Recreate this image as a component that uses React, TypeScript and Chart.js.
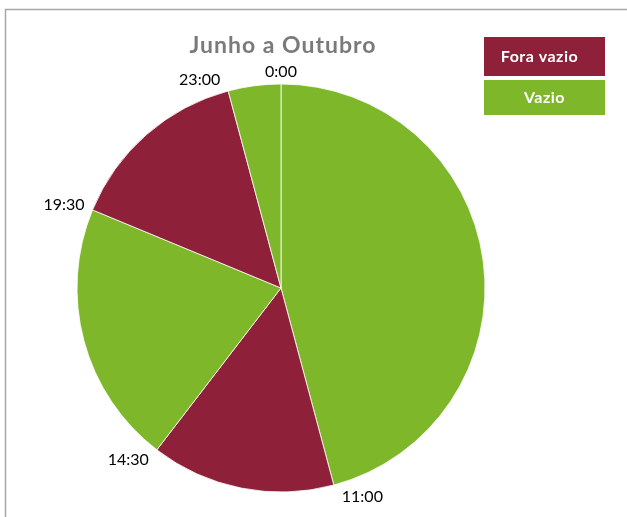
import React, { useEffect, useRef } from "react";
import { Chart, registerables } from "chart.js";

Chart.register(...registerables);

const chartTitle = "Junho a Outubro";
const periodHours = [11, 3.5, 5, 3.5, 1];
const periodTypes = ["Vazio", "Fora vazio", "Vazio", "Fora vazio", "Vazio"];
const boundaryLabels = ["0:00", "11:00", "14:30", "19:30", "23:00"];
const legendLabels = ["Fora vazio", "Vazio"];
const legendColors = ["#8E2039", "#7EB82A"];

const colorFor = (t: string) => legendColors[legendLabels.indexOf(t)];

const FONT = "Lato, 'Open Sans', sans-serif";

const decorPlugin = {
  id: "decor",
  beforeDraw(chart: any) {
    const ctx = chart.ctx;
    ctx.save();
    ctx.fillStyle = "#ffffff";
    ctx.fillRect(0, 0, chart.width, chart.height);
    ctx.strokeStyle = "#a6a6a6";
    ctx.lineWidth = 1.5;
    ctx.beginPath();
    ctx.moveTo(5.5, chart.height);
    ctx.lineTo(5.5, 9.5);
    ctx.lineTo(chart.width, 9.5);
    ctx.stroke();
    ctx.restore();
  },
  afterDraw(chart: any) {
    const ctx = chart.ctx;
    const meta = chart.getDatasetMeta(0);
    ctx.save();
    // title
    ctx.fillStyle = "#7a7a7a";
    ctx.font = `bold 23px ${FONT}`;
    (ctx as any).letterSpacing = "1px";
    ctx.textAlign = "center";
    ctx.textBaseline = "middle";
    ctx.fillText(chartTitle, 283, 46);
    (ctx as any).letterSpacing = "0px";

    // boundary labels
    ctx.font = `16px ${FONT}`;
    ctx.fillStyle = "#000000";
    meta.data.forEach((arc: any, i: number) => {
      const { x, y, startAngle, outerRadius } = arc.getProps(
        ["x", "y", "startAngle", "outerRadius"],
        true
      );
      const dx = Math.cos(startAngle);
      const dy = Math.sin(startAngle);
      const px = x + dx * outerRadius;
      const py = y + dy * outerRadius;
      const w = ctx.measureText(boundaryLabels[i]).width;
      const sx = Math.abs(dx) < 0.05 ? 0 : Math.sign(dx);
      const lx = px + sx * (w / 2 + 8);
      const ly = py + dy * 12;
      ctx.fillText(boundaryLabels[i], lx, ly);
    });

    // legend
    const bx = 484, bw = 121;
    const rows = [
      { y: 37, h: 39 },
      { y: 80, h: 35 },
    ];
    ctx.font = `bold 16px ${FONT}`;
    (ctx as any).letterSpacing = "0.5px";
    legendLabels.forEach((lab, i) => {
      ctx.fillStyle = legendColors[i];
      ctx.fillRect(bx, rows[i].y, bw, rows[i].h);
      ctx.fillStyle = "#ffffff";
      ctx.fillText(lab, bx + bw / 2 - (i === 0 ? 5 : 0), rows[i].y + rows[i].h / 2);
    });
    ctx.restore();
  },
};

export default function App() {
  const ref = useRef<HTMLCanvasElement | null>(null);
  useEffect(() => {
    if (!ref.current) return;
    const chart = new Chart(ref.current, {
      type: "pie",
      data: {
        labels: boundaryLabels,
        datasets: [
          {
            data: periodHours,
            backgroundColor: periodTypes.map(colorFor),
            borderColor: "rgba(255,255,255,0.8)",
            borderWidth: 1,
          },
        ],
      },
      options: {
        responsive: false,
        animation: false,
        radius: 204,
        layout: { padding: { left: 77, right: 142, top: 84, bottom: 25 } },
        plugins: {
          legend: { display: false },
          title: { display: false },
          tooltip: { enabled: false },
        },
      } as any,
      plugins: [decorPlugin],
    });
    return () => chart.destroy();
  }, []);
  return (
    <div style={{ position: "fixed", left: 0, top: 0, width: 627, height: 517 }}>
      <canvas ref={ref} width={627} height={517} />
    </div>
  );
}
